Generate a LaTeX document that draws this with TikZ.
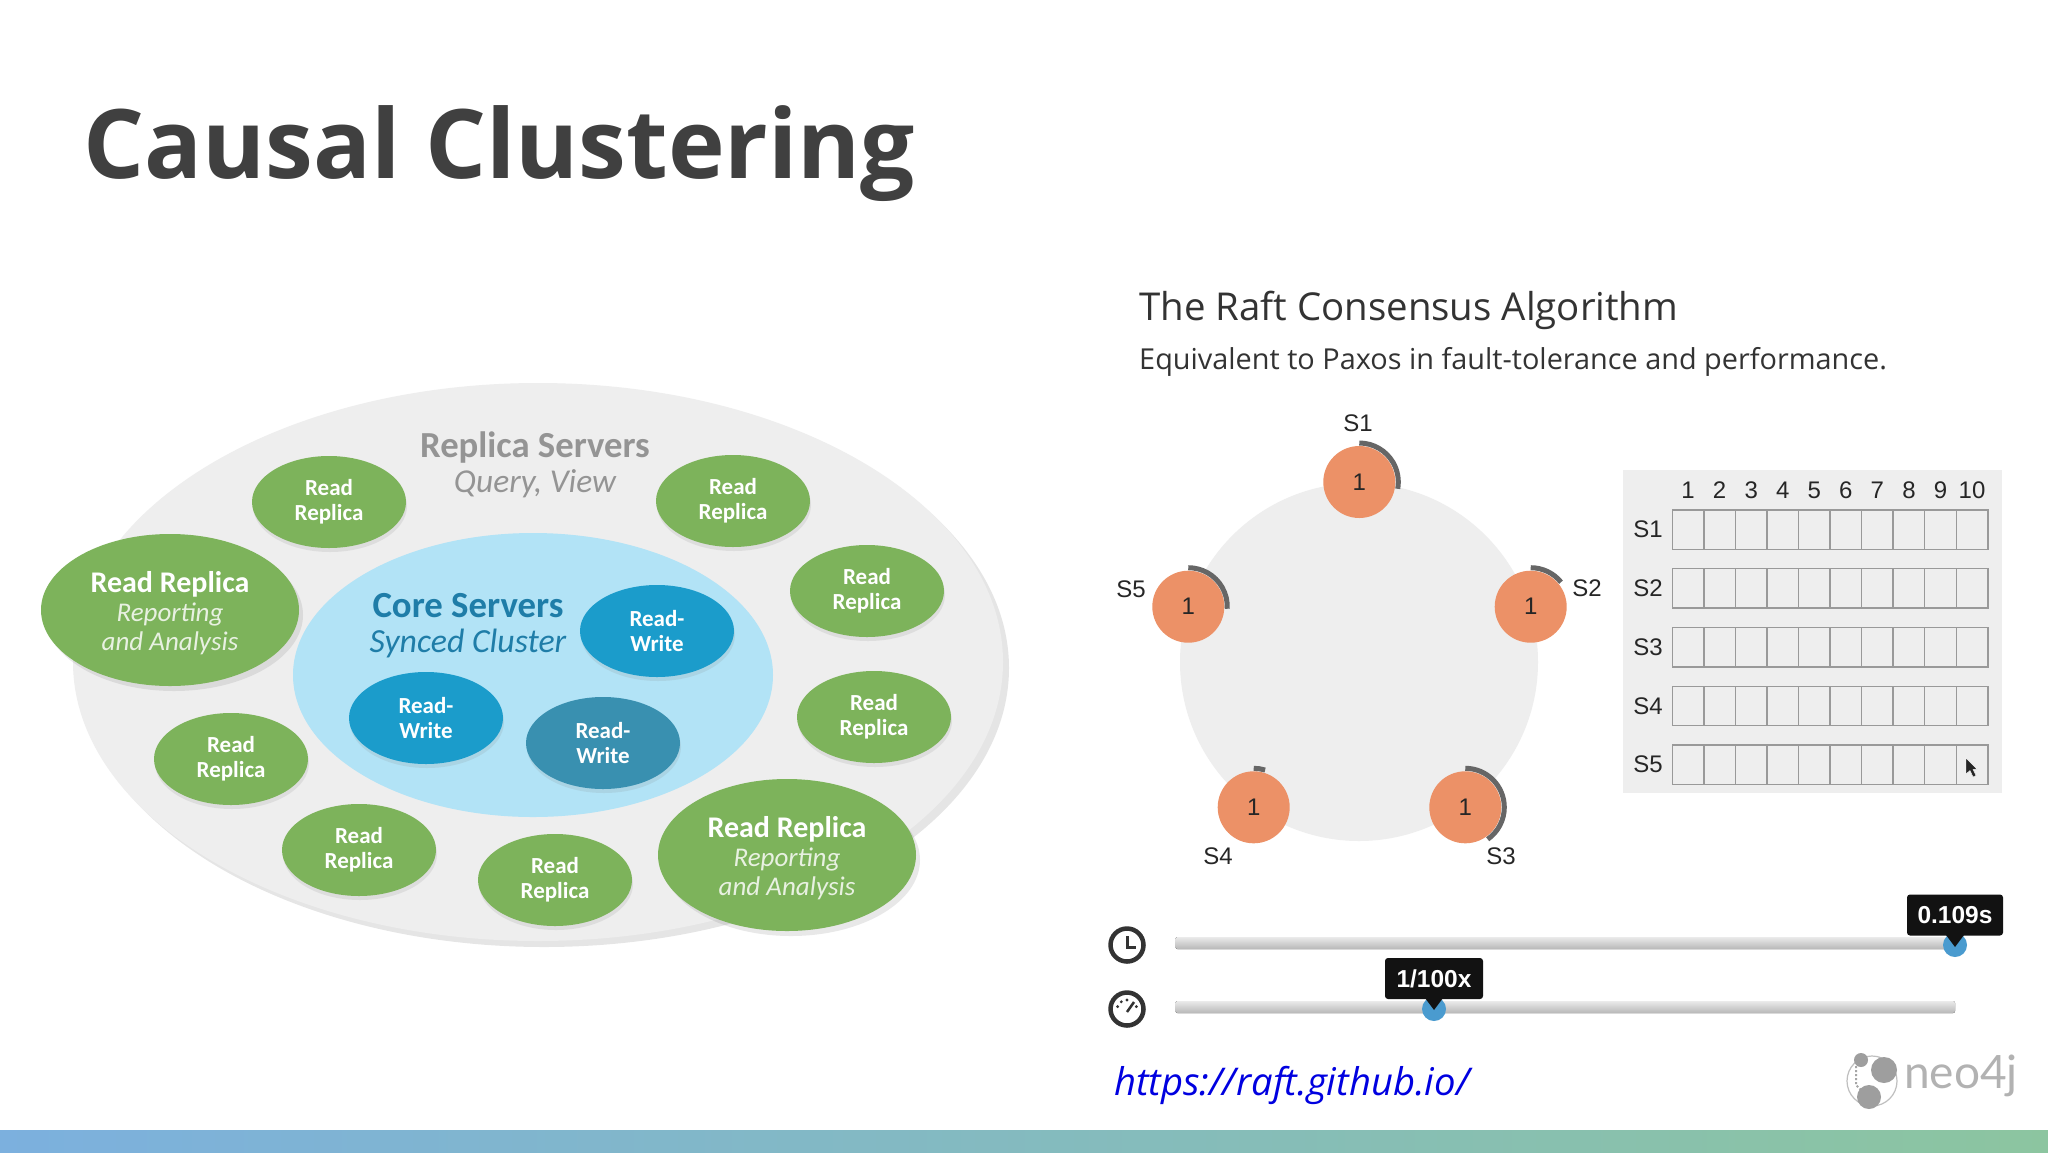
\documentclass[tikz,border=0pt]{standalone}
\usepackage{fontspec}
\setmainfont{Open Sans}
\setsansfont{Liberation Sans}
\newfontfamily\carlito{Carlito}
\newfontfamily\lato{Lato}
\usetikzlibrary{shapes.geometric,shadows}
\definecolor{replicagreen}{HTML}{7DB35B}
\definecolor{coreblue}{HTML}{1B9CCB}
\definecolor{corepale}{HTML}{B2E3F6}
\definecolor{coretext}{HTML}{1F7DA8}
\definecolor{ringgrey}{HTML}{EEEEEE}
\definecolor{serverorange}{HTML}{EC9167}
\definecolor{timergrey}{HTML}{666666}
\definecolor{knobblue}{HTML}{4A9BCF}
\newcommand{\fsz}[1]{\fontsize{#1}{#1}\selectfont}
\tikzset{
  replica/.style={ellipse, fill=replicagreen, minimum width=154, minimum height=92, inner sep=0,
    text=white, align=center, font=\carlito\bfseries\fontsize{23}{25}\selectfont,
    drop shadow={opacity=0.15, shadow xshift=1, shadow yshift=4}},
  bigreplica/.style={ellipse, fill=replicagreen, minimum width=258, minimum height=152, inner sep=0,
    text=white, align=center, font=\carlito\fontsize{27}{29}\selectfont, drop shadow={opacity=0.18, shadow xshift=4, shadow yshift=5}},
  rwserver/.style={replica, fill=coreblue},
  server/.style={circle, fill=serverorange, minimum size=72, inner sep=0, font=\sffamily\fontsize{24}{24}\selectfont, text=black!85},
  slabel/.style={font=\sffamily\fontsize{24}{24}\selectfont, text=black!85},
  tooltip/.style={fill=black!93, rounded corners=3, text=white, inner sep=0, minimum height=41, font=\sffamily\bfseries\fontsize{24.5}{25}\selectfont},
  track/.style={rounded corners=2, top color=black!8, bottom color=black!28, draw=none},
  timer/.style={timergrey, line width=5},
  logcell/.style={draw=black!40, line width=1.4},
}
\begin{document}
\begin{tikzpicture}[x=1pt, y=-1pt]
  \useasboundingbox[fill=white] (0,0) rectangle (2048,1152);
  \node[anchor=base west, inner sep=0, font=\bfseries\fontsize{96}{96}\selectfont, text=black!75] (title) at (83,178) {Causal Clustering};
  % replica picture
  \node[ellipse, fill=ringgrey, minimum width=930, minimum height=558, inner sep=0, drop shadow={opacity=0.2, shadow xshift=6, shadow yshift=6}] (replicas) at (538,662) {};
  \node[font=\carlito\bfseries\fsz{36.7}, text=black!42] (replicahead) at (535,447) {Replica Servers};
  \node[font=\carlito\itshape\fsz{33.4}, text=black!42] (replicasub) at (535,484) {Query, View};
  \foreach \n/\x/\y in {a/329/502, b/733/501, c/867/591, d/874/717, e/231/759, f/359/850, g/555/880}
    \node[replica] (rr\n) at (\x,\y) {Read\\Replica};
  \foreach \n/\x/\y in {l/170/610, r/787/855}
    \node[bigreplica] (big\n) at (\x,\y) {{\bfseries\fontsize{30}{29}\selectfont\rule{0pt}{28pt}Read Replica}\\{\itshape\color{white!82!replicagreen}Reporting}\\{\itshape\color{white!82!replicagreen}and Analysis}};
  \node[ellipse, fill=corepale, minimum width=480, minimum height=284, inner sep=0] (core) at (533,675) {};
  \node[font=\carlito\bfseries\fsz{36.8}, text=coretext] (corehead) at (468,606) {Core Servers};
  \node[font=\carlito\itshape\fsz{33.8}, text=coretext] (coresub) at (468,643) {Synced Cluster};
  \node[rwserver] (rwa) at (657,631) {Read-\\Write};
  \node[rwserver] (rwb) at (426,718) {Read-\\Write};
  \node[rwserver, fill=coreblue!80!black!85!white] (rwc) at (603,743) {Read-\\Write};
  % raft heading
  \node[anchor=base west, inner sep=0, font=\fsz{38.4}, text=black!80] (rafthead) at (1139,320) {The Raft Consensus Algorithm};
  \node[anchor=base west, inner sep=0, font=\fsz{28.85}, text=black!80] (raftsub) at (1139,369) {Equivalent to Paxos in fault-tolerance and performance.};
  % servers
  \fill[ringgrey] (1359,662) circle (179);
  \foreach \n/\x/\y/\e/\lx/\ly in {1/1359.3/482/-10/1358/423, 2/1530.7/606.7/39/1587/588, 3/1465.3/807.3/-55/1501/856, 4/1253.7/807.3/73/1218/856, 5/1188.3/606.7/-3/1131/589} {
    \node[server] (s\n) at (\x,\y) {1};
    \draw[timer] ([shift={(-90:39)}]\x,\y) arc[start angle=-90, end angle=-\e, radius=39];
    \node[slabel] (sl\n) at (\lx,\ly) {S\n};
  }
  % log table
  \fill[ringgrey] (1623.3,470) rectangle (2002.3,793);
  \foreach \c in {1,...,10}
    \node[slabel] (col\c) at ({1672.3+31.55*(\c-0.5)},490) {\c};
  \foreach \r in {1,...,5} {
    \node[slabel] (row\r) at (1648,{529.6+58.75*(\r-1)}) {S\r};
    \foreach \c in {1,...,10}
      \draw[logcell] ({1672.3+31.55*(\c-1)},{510+58.75*(\r-1)}) rectangle ++(31.55,39.3);
  }
  \fill[black!85, draw=white, line width=0.4] (1966,758) -- (1966,774) -- (1970,770.5) -- (1973,777) -- (1976,775.5) -- (1973,769.5) -- (1977,769) -- cycle;
  % sliders
  \fill[track] (1175.5,937) rectangle (1955,949);
  \fill[track] (1175.5,1001) rectangle (1955,1013);
  \fill[knobblue] (1955,945) circle (12);
  \fill[knobblue] (1434,1009) circle (12);
  \node[tooltip, minimum width=96] (tipa) at (1955,915) {0.109s};
  \node[tooltip, minimum width=98] (tipb) at (1434,978.5) {1/100x};
  \fill[black!93] (1946,935) -- (1964,935) -- (1955,947) -- cycle;
  \fill[black!93] (1425,998) -- (1443,998) -- (1434,1010) -- cycle;
  % clock and gauge
  \draw[black!80, line width=4.5] (1127,945) circle (16.5);
  \draw[black!80, line width=3] (1127,936) -- (1127,947) -- (1136,947);
  \draw[black!80, line width=4.5] (1127,1009) circle (16.5);
  \draw[black!80, line width=2.5] (1127,1012) -- (1134,1002);
  \foreach \a in {-160,-125,-90,-20} \fill[black!80] ([shift={(\a:10)}]1127,1010) circle (1.6);
  % link and logo
  \node[anchor=base west, inner sep=0, font=\itshape\fsz{38.2}, text={rgb,255:red,0;green,0;blue,224}] (link) at (1114,1095) {https://raft.github.io/};
  \draw[black!25, line width=1.2] (1872,1081) circle (25);
  \draw[black!35, line width=2, dotted] (1856,1066) -- (1856,1085) -- (1866,1095);
  \fill[black!38] (1884,1070) circle (13);
  \fill[black!38] (1861,1060) circle (7);
  \fill[black!38] (1869,1097) circle (12);
  \node[anchor=base west, inner sep=0, font=\lato\fsz{46}, text=black!30] (neo) at (1904,1088) {neo4j};
  % footer band
  \fill[left color={rgb,255:red,124;green,176;blue,222}, right color={rgb,255:red,140;green,197;blue,160}] (0,1130) rectangle (2048,1152);
\end{tikzpicture}
\end{document}
